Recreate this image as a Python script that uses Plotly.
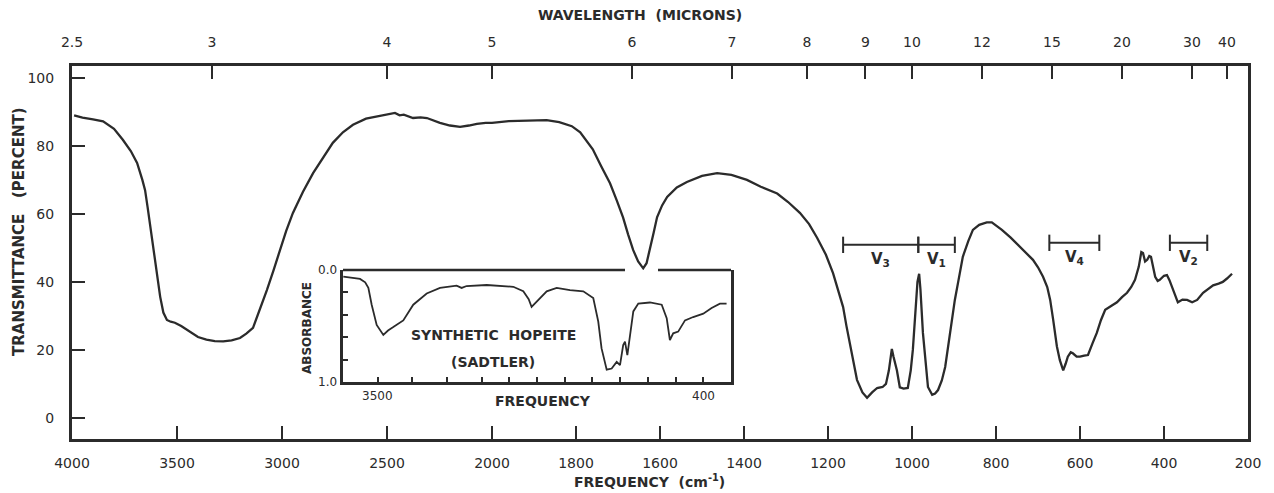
import numpy as np
import plotly.graph_objects as go

# ---------------- data ----------------
# Main spectrum: frequency (cm-1) and transmittance (%)
freq = [3990, 3950, 3900, 3852, 3800, 3758, 3720, 3690, 3665, 3652, 3640, 3628, 3616, 3604,
        3592, 3580, 3565, 3548, 3530, 3510, 3480, 3440, 3400, 3360, 3320, 3280, 3240, 3200,
        3170, 3138, 3105, 3072, 3040, 3010, 2980, 2948, 2900, 2852, 2800, 2758, 2710, 2662,
        2600, 2534, 2500, 2462, 2440, 2420, 2376, 2340, 2310, 2270, 2248, 2200, 2152, 2110,
        2072, 2030, 2000, 1960, 1900, 1870, 1840, 1810, 1790, 1775, 1760, 1740, 1719, 1703,
        1688, 1676, 1664, 1652, 1640, 1632, 1624, 1615, 1607, 1595, 1583, 1560, 1536, 1500,
        1464, 1430, 1393, 1360, 1321, 1295, 1267, 1245, 1226, 1205, 1188, 1175, 1164, 1156,
        1148, 1140, 1131, 1118, 1107, 1095, 1083, 1070, 1062, 1055, 1050, 1048, 1044, 1036,
        1029, 1020, 1010, 1003, 998, 992, 987, 983, 980, 974, 968, 962, 952, 945, 938, 929,
        921, 915, 910, 898, 890, 879, 866, 855, 840, 822, 810, 798, 786, 765, 743, 728, 712,
        700, 688, 678, 671, 664, 660, 655, 648, 640, 634, 629, 622, 617, 608, 600, 590, 581,
        570, 560, 550, 540, 525, 512, 500, 488, 478, 469, 460, 454, 450, 445, 440, 435, 431,
        426, 421, 415, 410, 400, 393, 387, 381, 374, 367, 356, 345, 333, 321, 307, 295, 283,
        270, 260, 250, 238]
transmittance = [89.0, 88.3, 87.8, 87.2, 85.0, 81.8, 78.5, 75.0, 70.0, 67.0, 62.0, 57.0, 52.0, 47.0,
                 41.0, 35.6, 31.0, 28.8, 28.3, 28.0, 27.0, 25.3, 23.8, 23.0, 22.6, 22.5, 22.8, 23.5,
                 24.8, 26.5, 32.0, 37.6, 43.5, 49.4, 55.0, 60.3, 66.5, 72.0, 77.0, 80.9, 84.0, 86.2,
                 88.0, 88.8, 89.3, 89.7, 89.0, 89.2, 88.2, 88.4, 88.2, 87.3, 86.8, 86.0, 85.6, 86.0,
                 86.5, 86.8, 86.8, 87.3, 87.5, 87.6, 87.0, 85.8, 84.0, 81.5, 79.0, 74.0, 69.0, 64.0,
                 59.0, 54.0, 49.4, 46.0, 44.0, 45.5, 49.4, 54.5, 59.0, 62.5, 65.0, 67.8, 69.4, 71.2,
                 72.0, 71.5, 70.0, 68.0, 66.0, 63.5, 60.3, 57.0, 53.0, 48.0, 42.6, 37.0, 32.6, 27.0,
                 22.0, 16.5, 11.2, 7.5, 5.9, 7.5, 8.8, 9.1, 10.0, 14.0, 18.5, 20.3, 18.0, 14.0,
                 9.0, 8.6, 8.8, 14.0, 20.0, 30.0, 40.0, 42.4, 38.0, 25.0, 16.0, 9.1, 6.8, 7.2, 8.2, 11.0,
                 15.0, 20.0, 25.0, 34.7, 40.0, 47.4, 52.0, 55.3, 56.8, 57.5, 57.5, 56.5, 55.3, 53.0, 50.3, 48.5, 46.5,
                 44.3, 41.5, 38.5, 34.7, 29.0, 25.0, 21.0, 17.0, 14.0, 16.0, 18.0, 19.3, 19.0, 18.0, 18.0, 18.3, 18.5,
                 22.0, 25.0, 28.8, 31.8, 33.0, 34.0, 35.5, 36.8, 38.5, 40.6, 44.5, 48.8, 48.5, 46.0, 46.5, 47.6, 47.4,
                 44.0, 41.5, 40.3, 40.6, 41.8, 42.0, 40.5, 38.5, 36.0, 34.0, 34.8, 34.7, 34.0, 34.7, 36.8, 37.8, 39.0,
                 39.5, 40.0, 41.0, 42.4]

# Inset (Sadtler) spectrum: frequency (cm-1) and absorbance
inset_freq = [3996, 3900, 3754, 3680, 3634, 3586, 3514, 3418, 3350, 3274, 3130, 2986, 2792, 2600,
              2360, 2288, 2216, 1963, 1771, 1699, 1660, 1639, 1602, 1530, 1458, 1362, 1266, 1194,
              1158, 1134, 1097, 1061, 1025, 1001, 978, 965, 948, 934, 905, 869, 785, 700, 664,
              641, 617, 581, 532, 473, 400, 340, 280, 232]
inset_abs = [0.06, 0.07, 0.08, 0.11, 0.16, 0.31, 0.49, 0.58, 0.54, 0.51, 0.45, 0.31, 0.21, 0.16,
             0.14, 0.16, 0.143, 0.134, 0.15, 0.19, 0.26, 0.33, 0.28, 0.19, 0.16, 0.18, 0.19, 0.25,
             0.46, 0.70, 0.89, 0.88, 0.82, 0.85, 0.67, 0.64, 0.76, 0.64, 0.37, 0.30, 0.29, 0.31, 0.43,
             0.625, 0.565, 0.55, 0.45, 0.42, 0.39, 0.34, 0.30, 0.30]

# Axis ticks
freq_ticks = [4000, 3500, 3000, 2500, 2000, 1800, 1600, 1400, 1200, 1000, 800, 600, 400, 200]
wavelength_ticks = [2.5, 3, 4, 5, 6, 7, 8, 9, 10, 12, 15, 20, 30, 40]
wavelength_labels = ["2.5", "3", "4", "5", "6", "7", "8", "9", "10", "12", "15", "20", "30", "40"]
trans_ticks = [0, 20, 40, 60, 80, 100]
abs_ticks = [0.0, 0.2, 0.4, 0.6, 0.8, 1.0]
abs_label_vals = [0.0, 1.0]
abs_label_text = ["0.0", "1.0"]
inset_label_freqs = [3500, 400]

# Vibrational band brackets (cm-1)
bands = [("V<sub>3</sub>", 1164, 985, 50.9), ("V<sub>1</sub>", 985, 898, 50.9),
         ("V<sub>4</sub>", 673, 554, 51.5), ("V<sub>2</sub>", 386, 297, 51.5)]


# -------- chart axis scale (linear in two segments, scale change at 2000 cm-1) --------
def fx(f):
    f = np.asarray(f, dtype=float)
    return np.where(f >= 2000, (4000 - f) / 2.0, 3000 - f)


INK = "#2b2b2b"
FONT = "DejaVu Sans"

fig = go.Figure()
fig.add_trace(go.Scatter(x=fx(freq), y=transmittance, mode="lines",
                         line=dict(color=INK, width=2.3), hoverinfo="skip", showlegend=False))
# carrier for top axis
fig.add_trace(go.Scatter(x=[0, 2800], y=[50, 50], xaxis="x2", mode="markers",
                         marker=dict(opacity=0), hoverinfo="skip", showlegend=False))
fig.add_trace(go.Scatter(x=fx(inset_freq), y=inset_abs, xaxis="x3", yaxis="y3", mode="lines",
                         line=dict(color=INK, width=1.8), hoverinfo="skip", showlegend=False))

W, H = 1274, 493
L, R, T, B = 72, 26, 66, 54
pw, ph = W - L - R, H - T - B


def px2paper(px):
    return (px - L) / pw


def py2paper(py):
    return (H - B - py) / ph


axis_common = dict(showgrid=False, zeroline=False, showline=True, linecolor=INK, linewidth=3,
                   ticks="inside", ticklen=13, tickwidth=2, tickcolor=INK,
                   tickfont=dict(family=FONT, size=14, color=INK))

ins_x0, ins_x1 = 343, 731
ins_y0, ins_y1 = 270, 382

fig.update_layout(
    width=W, height=H, margin=dict(l=L, r=R, t=T, b=B),
    paper_bgcolor="white", plot_bgcolor="white",
    xaxis=dict(range=[0, 2800], tickvals=fx(freq_ticks), ticktext=[str(v) for v in freq_ticks],
               ticklabelstandoff=9, **axis_common),
    xaxis2=dict(range=[0, 2800], overlaying="x", side="top", anchor="y",
                tickvals=fx([10000.0 / w for w in wavelength_ticks]), ticktext=wavelength_labels,
                ticklabelstandoff=10, **axis_common),
    yaxis=dict(range=[-6.2, 103.5], tickvals=trans_ticks, ticktext=[str(v) for v in trans_ticks],
               mirror=True, ticklabelstandoff=12, **axis_common),
    xaxis3=dict(domain=[px2paper(ins_x0), px2paper(ins_x1)], anchor="y3", range=[0, 2800],
                showgrid=False, zeroline=False, showline=True, linecolor=INK, linewidth=2.5,
                ticks="inside", ticklen=5, tickwidth=1.5, tickcolor=INK,
                tickvals=fx(freq_ticks[1:-1]), showticklabels=False),
    yaxis3=dict(domain=[py2paper(ins_y1), py2paper(ins_y0)], anchor="x3", range=[1.0, 0.0],
                showgrid=False, zeroline=False, showline=True, linecolor=INK, linewidth=2.5,
                mirror=True, ticks="inside", ticklen=5, tickwidth=1.5, tickcolor=INK,
                tickvals=abs_ticks, showticklabels=False),
)

# inset top frame line with a gap where the main curve dips through
gap0, gap1 = 625, 658
for a, b in [(ins_x0, gap0), (gap1, ins_x1)]:
    fig.add_shape(type="line", xref="paper", yref="paper",
                  x0=px2paper(a), x1=px2paper(b), y0=py2paper(ins_y0), y1=py2paper(ins_y0),
                  line=dict(color=INK, width=2.5))

# inset tick labels
for fv in inset_label_freqs:
    fig.add_annotation(x=float(fx(fv)), xref="x3", y=py2paper(396), yref="paper",
                       text=str(fv), showarrow=False, xanchor="center", yanchor="middle",
                       font=dict(family=FONT, size=12, color=INK))
for av, at in zip(abs_label_vals, abs_label_text):
    fig.add_annotation(x=px2paper(327), xref="paper", y=av, yref="y3",
                       text=at, showarrow=False, xanchor="center", yanchor="middle",
                       font=dict(family=FONT, size=12, color=INK))

# band brackets
for name, f0, f1, yv in bands:
    x0, x1 = float(fx(f0)), float(fx(f1))
    fig.add_shape(type="line", x0=x0, x1=x1, y0=yv, y1=yv, xref="x", yref="y",
                  line=dict(color=INK, width=2))
    for xe in (x0, x1):
        fig.add_shape(type="line", x0=xe, x1=xe, y0=yv - 2.4, y1=yv + 2.4, xref="x", yref="y",
                      line=dict(color=INK, width=2))
    fig.add_annotation(x=(x0 + x1) / 2, y=yv - 4.3, xref="x", yref="y", text="<b>" + name + "</b>",
                       showarrow=False, xanchor="center", yanchor="middle",
                       font=dict(family=FONT, size=15, color=INK))


def label(px, py, text, size, angle=0):
    fig.add_annotation(x=px2paper(px), y=py2paper(py), xref="paper", yref="paper",
                       text=text, showarrow=False, textangle=angle,
                       xanchor="center", yanchor="middle",
                       font=dict(family=FONT, size=size, color=INK))


# titles
label(640, 15, "<b>WAVELENGTH  (MICRONS)</b>", 14)
label(649, 481, "<b>FREQUENCY  (cm<sup>-1</sup>)</b>", 14)
label(19, 232, "<b>TRANSMITTANCE   (PERCENT)</b>", 15, -90)

# inset texts
label(307, 328, "<b>ABSORBANCE</b>", 12, -90)
label(543, 401, "<b>FREQUENCY</b>", 14)
label(493, 335, "<b>SYNTHETIC  HOPEITE</b>", 14)
label(493, 362, "<b>(SADTLER)</b>", 14)

fig.write_html("out.html", config={"displayModeBar": False},
               post_script="document.body.style.margin='0px';")
